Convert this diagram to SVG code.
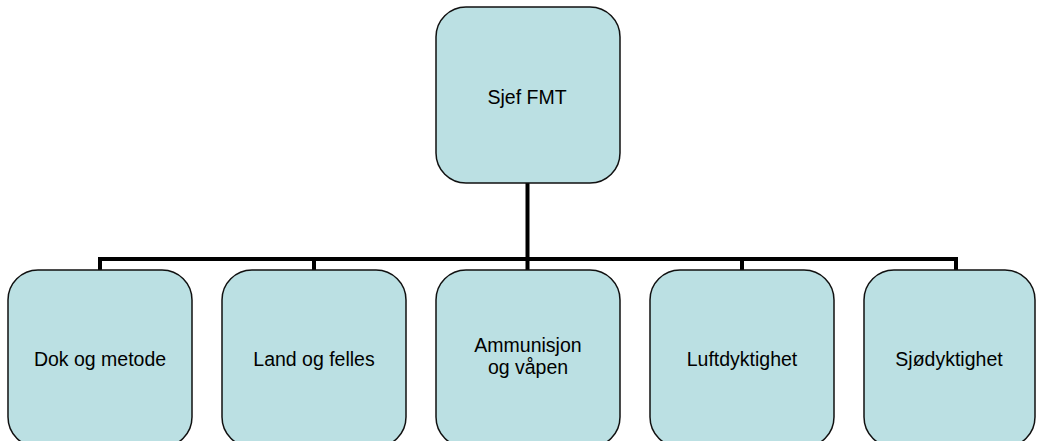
<svg xmlns="http://www.w3.org/2000/svg" width="1037" height="441" viewBox="0 0 1037 441">
<style>
.box{fill:#bbe0e3;stroke:#111;stroke-width:1.5}
.lbl{font-family:"Liberation Sans",Arial,sans-serif;font-size:19.5px;fill:#000;text-anchor:middle}
.conn{stroke:#000;stroke-width:4;fill:none}
</style>
<rect width="1037" height="441" fill="#fff"/>
<g id="connectors">
<path class="conn" d="M527.5,183 V259 M100,259 H956 M100,257 V270 M314,257 V270 M527.5,259 V270 M742,257 V270 M956,257 V270"/>
</g>
<g id="n0"><rect class="box" x="436" y="7" width="184" height="176" rx="30"/><text class="lbl" x="527" y="104">Sjef FMT</text></g>
<g id="n1"><rect class="box" x="8" y="270" width="184" height="177" rx="30"/><text class="lbl" x="100" y="366">Dok og metode</text></g>
<g id="n2"><rect class="box" x="222" y="270" width="184" height="177" rx="30"/><text class="lbl" x="314" y="366">Land og felles</text></g>
<g id="n3"><rect class="box" x="436" y="270" width="184" height="177" rx="30"/><text class="lbl" x="528" y="352">Ammunisjon</text><text class="lbl" x="528" y="374">og våpen</text></g>
<g id="n4"><rect class="box" x="650" y="270" width="184" height="177" rx="30"/><text class="lbl" x="742" y="366">Luftdyktighet</text></g>
<g id="n5"><rect class="box" x="864" y="270" width="171" height="177" rx="30"/><text class="lbl" x="949" y="366">Sjødyktighet</text></g>
</svg>
